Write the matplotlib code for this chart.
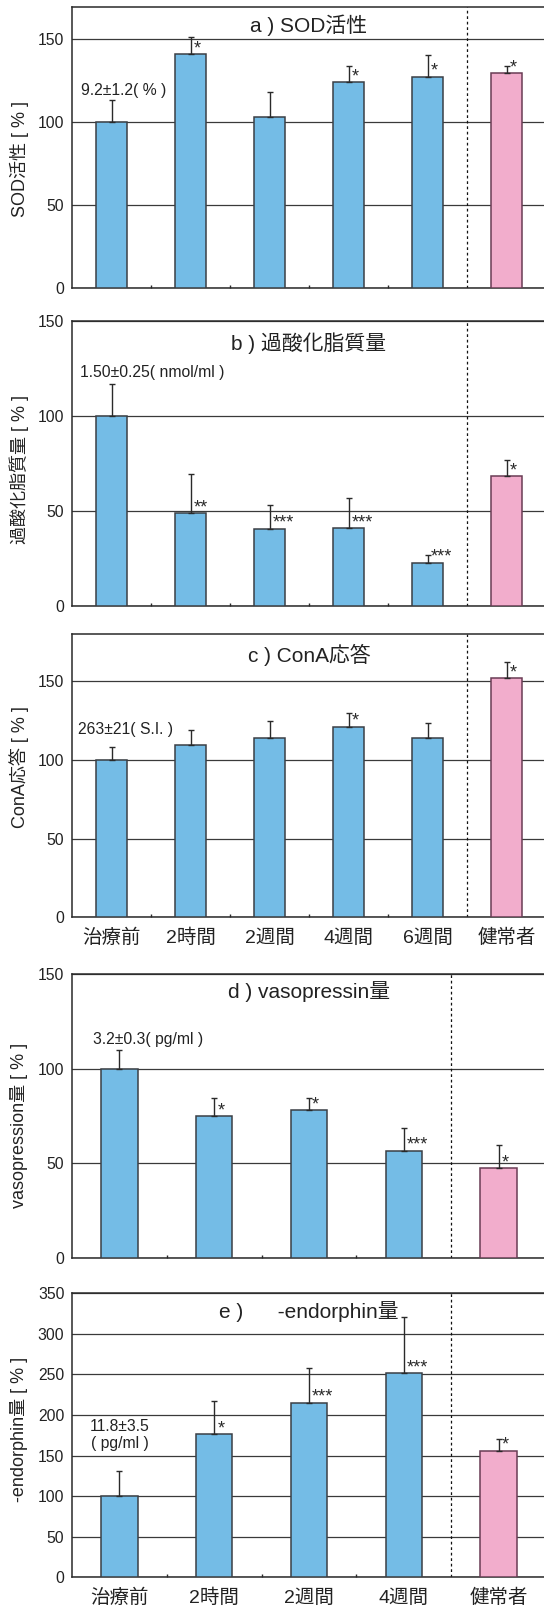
import matplotlib
matplotlib.use("Agg")
import matplotlib.pyplot as plt

# ---------------- data ----------------
cats6 = ["治療前", "2時間", "2週間", "4週間", "6週間", "健常者"]
cats5 = ["治療前", "2時間", "2週間", "4週間", "健常者"]

sod_mean = [100, 140.5, 103.2, 123.9, 127.1, 129.1]
sod_err = [13.4, 10.3, 14.5, 9.8, 13.3, 4.6]
sod_sig = ["", "*", "", "*", "*", "*"]

lpo_mean = [100, 48.6, 40.5, 40.7, 22.7, 68.1]
lpo_err = [16.9, 20.6, 12.7, 15.8, 4.1, 8.5]
lpo_sig = ["", "**", "***", "***", "***", "*"]

cona_mean = [100, 109.3, 114.2, 121.2, 114.2, 151.8]
cona_err = [8.5, 9.6, 10.8, 8.9, 9.5, 10.4]
cona_sig = ["", "", "", "*", "", "*"]

vaso_mean = [100, 75.0, 78.0, 56.5, 47.3]
vaso_err = [9.7, 9.7, 6.7, 12.3, 12.5]
vaso_sig = ["", "*", "*", "***", "*"]

endo_mean = [100, 176.1, 215.0, 251.2, 155.9]
endo_err = [31.3, 41.0, 43.1, 70.2, 14.4]
endo_sig = ["", "*", "***", "***", "*"]

titles = ["a ) SOD活性", "b ) 過酸化脂質量", "c ) ConA応答",
          "d ) vasopressin量", "e )      -endorphin量"]
ylabels = ["SOD活性 [ % ]", "過酸化脂質量 [ % ]", "ConA応答 [ % ]",
           "vasopression量 [ % ]", "-endorphin量 [ % ]"]
baselines = ["9.2±1.2( % )", "1.50±0.25( nmol/ml )", "263±21( S.I. )",
             "3.2±0.3( pg/ml )", "11.8±3.5\n( pg/ml )"]
yticks_list = [[0, 50, 100, 150], [0, 50, 100, 150], [0, 50, 100, 150],
               [0, 50, 100, 150], [0, 50, 100, 150, 200, 250, 300, 350]]

# ---------------- style ----------------
FAM = ["Liberation Sans", "Noto Sans CJK JP", "DejaVu Sans"]
plt.rcParams["font.family"] = FAM
BLUE = "#74bce6"
PINK = "#f2adcc"
EDGE_B = "#3a3f45"
EDGE_P = "#6a3c55"
DARK = "#2a2a2a"

W, H = 544, 1611
fig = plt.figure(figsize=(W / 100, H / 100), dpi=100)


def box(top, bottom, left=72, right=546):
    return [left / W, 1 - bottom / H, (right - left) / W, (bottom - top) / H]


panels = [
    dict(pos=box(7, 288.3), cats=cats6, mean=sod_mean, err=sod_err, sig=sod_sig,
         ylim=(0, 169), xlabels=False, title_y=0.936, ylab_y=0.46,
         note_xy=(-0.39, 119), note_ha="left"),
    dict(pos=box(321, 605.7), cats=cats6, mean=lpo_mean, err=lpo_err, sig=lpo_sig,
         ylim=(0, 150), xlabels=False, title_y=0.922, ylab_y=0.48,
         note_xy=(-0.40, 122.9), note_ha="left"),
    dict(pos=box(634, 917.3), cats=cats6, mean=cona_mean, err=cona_err, sig=cona_sig,
         ylim=(0, 180), xlabels=True, title_y=0.926, ylab_y=0.529,
         note_xy=(-0.42, 119.3), note_ha="left"),
    dict(pos=box(974.3, 1257.7), cats=cats5, mean=vaso_mean, err=vaso_err, sig=vaso_sig,
         ylim=(0, 150), xlabels=False, title_y=0.939, ylab_y=0.468,
         note_xy=(-0.276, 115.6), note_ha="left"),
    dict(pos=box(1293.3, 1577.3), cats=cats5, mean=endo_mean, err=endo_err, sig=endo_sig,
         ylim=(0, 350), xlabels=True, title_y=0.935, ylab_y=0.522,
         note_xy=(0, 175.4), note_ha="center"),
]

for k, p in enumerate(panels):
    ax = fig.add_axes(p["pos"])
    n = len(p["cats"])
    x = list(range(n))
    colors = [BLUE] * (n - 1) + [PINK]
    edges = [EDGE_B] * (n - 1) + [EDGE_P]
    ax.bar(x, p["mean"], width=0.385, color=colors, edgecolor=edges,
           linewidth=1.1, zorder=3)
    ax.errorbar(x, p["mean"], yerr=[[0] * n, p["err"]], fmt="none",
                ecolor=DARK, elinewidth=1.0, capsize=2.2, capthick=1.0, zorder=4)
    for i in range(n):
        if p["sig"][i]:
            ax.annotate(p["sig"][i], xy=(x[i], p["mean"][i]), xytext=(3, 1),
                        textcoords="offset pixels", ha="left", va="baseline",
                        fontsize=13, color=DARK, zorder=5)
    ax.set_xlim(-0.5, n - 0.5)
    ax.set_ylim(*p["ylim"])
    ax.set_yticks(yticks_list[k])
    ax.yaxis.grid(True, color="#3a3a3a", linewidth=0.9)
    ax.set_axisbelow(True)
    ax.axvline(n - 1.5, color="#111111", linewidth=0.9, linestyle=(0, (2.2, 2.2)),
               zorder=2)
    for s in ["left", "bottom", "top"]:
        ax.spines[s].set_linewidth(1.1)
        ax.spines[s].set_color(DARK)
    ax.spines["right"].set_visible(False)
    ax.tick_params(axis="y", length=0, pad=5.5, labelsize=11.3, labelcolor="#222222")
    ax.set_xticks(x)
    if p["xlabels"]:
        ax.set_xticklabels(p["cats"], fontsize=14, color="#222222")
    else:
        ax.set_xticklabels([])
    ax.tick_params(axis="x", which="major", length=0, pad=8.5)
    ax.set_xticks([b + 0.5 for b in range(n - 2)], minor=True)
    ax.tick_params(axis="x", which="minor", direction="in", length=2.5, width=1.0,
                   color=DARK)
    ax.text(0.5, p["title_y"], titles[k], transform=ax.transAxes, ha="center",
            va="center", fontsize=15, color="#222222", zorder=6)
    ax.text(-0.112, p["ylab_y"], ylabels[k], transform=ax.transAxes, rotation=90,
            ha="center", va="center", fontsize=13, color="#222222")
    ax.text(p["note_xy"][0], p["note_xy"][1], baselines[k], ha=p["note_ha"],
            va="center", fontsize=11.3, color="#222222", linespacing=1.15, zorder=6)

fig.savefig("out.png", dpi=100)
